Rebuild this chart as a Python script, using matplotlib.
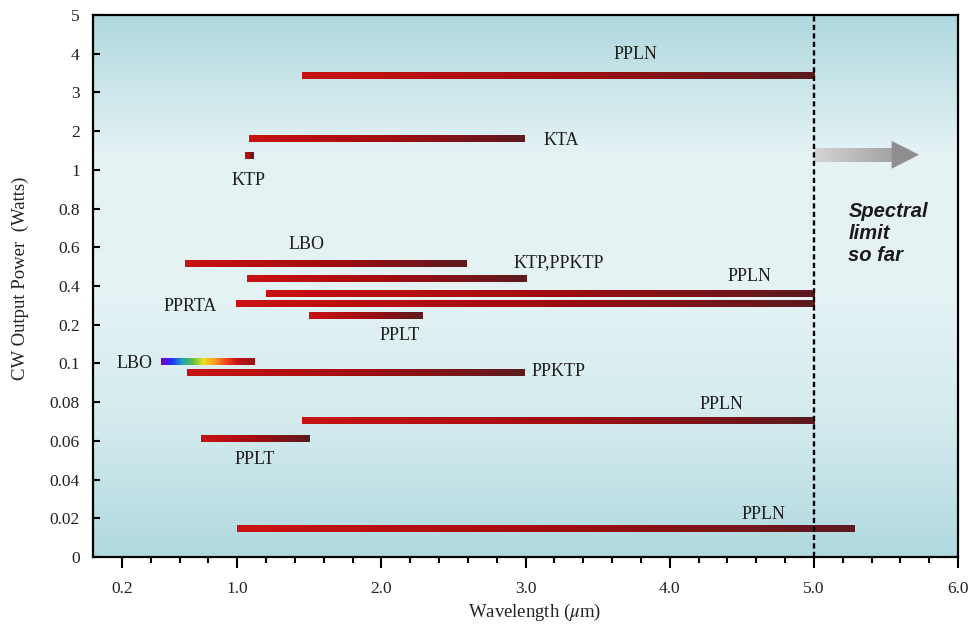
import numpy as np
import matplotlib
matplotlib.use("Agg")
import matplotlib.pyplot as plt
from matplotlib.collections import LineCollection
from matplotlib.colors import LinearSegmentedColormap
from matplotlib.patches import Polygon

plt.rcParams['font.family'] = ['Liberation Serif', 'DejaVu Serif']
plt.rcParams['mathtext.fontset'] = 'stix'

# y axis is not linear: equally spaced ticks with these values
ytick_vals = [0, 0.02, 0.04, 0.06, 0.08, 0.1, 0.2, 0.4, 0.6, 0.8, 1, 2, 3, 4, 5]
ytick_labels = ['0', '0.02', '0.04', '0.06', '0.08', '0.1', '0.2', '0.4', '0.6', '0.8',
                '1', '2', '3', '4', '5']
xtick_vals = [0.2, 1, 2, 3, 4, 5, 6]
xtick_labels = ['0.2', '1.0', '2.0', '3.0', '4.0', '5.0', '6.0']

# wavelength ranges (um) and CW power (W)
bar_x0 = [1.45, 1.08, 1.055, 0.64, 1.07, 1.20, 0.99, 1.50, 0.65, 1.45, 0.75, 1.00]
bar_x1 = [5.00, 2.99, 1.11, 2.59, 3.00, 5.00, 5.00, 2.28, 2.99, 5.00, 1.50, 5.28]
bar_p = [3.45, 1.83, 1.39, 0.52, 0.44, 0.364, 0.312, 0.25, 0.0956, 0.071, 0.0614, 0.015]

# visible LBO (rainbow part then red part)
lbo_x = [0.47, 0.99, 1.12]
lbo_p = 0.106

label_text = ['PPLN', 'KTA', 'KTP', 'LBO', 'KTP,PPKTP', 'PPLN', 'PPRTA', 'PPLT', 'LBO',
              'PPKTP', 'PPLN', 'PPLT', 'PPLN']
label_x = [3.76, 3.25, 1.08, 1.48, 3.23, 4.55, 0.675, 2.13, 0.29, 3.23, 4.36, 1.12, 4.65]
label_p = [3.97, 1.75, 0.944, 0.612, 0.52, 0.448, 0.292, 0.171, 0.101, 0.0956, 0.0786,
           0.0502, 0.0222]

limit_x = 5.0

pos = np.arange(len(ytick_vals))


def fwd(v):
    return np.interp(v, ytick_vals, pos)


def inv(p):
    return np.interp(p, pos, ytick_vals)


red_cmap = LinearSegmentedColormap.from_list('bar', ['#c81212', '#a20c10', '#5c1a1e'])
rainbow_cmap = LinearSegmentedColormap.from_list(
    'rb', ['#7a00c0', '#2030ff', '#20a0c0', '#60c040', '#e8e020', '#ffa020', '#f05020', '#d01818'])
last_cmap = LinearSegmentedColormap.from_list('lr', ['#c81414', '#9a1214'])
grey_cmap = LinearSegmentedColormap.from_list('gr', ['#d4d4d4', '#a2a2a2'])


def grad_bar(ax, x0, x1, y, cmap, lw=5.0, n=120):
    xs = np.linspace(x0, x1, n + 1)
    # each piece overlaps the next one so no seams show
    segs = [[(xs[i], y), (xs[min(i + 2, n)], y)] for i in range(n)]
    lc = LineCollection(segs, colors=cmap(np.linspace(0, 1, n)), linewidths=lw,
                        capstyle='butt', antialiaseds=False, zorder=3)
    ax.add_collection(lc)


fig = plt.figure(figsize=(9.74, 6.3), dpi=100)
ax = fig.add_axes([93 / 974, 1 - 557 / 630, 865 / 974, 542 / 630])
ax.set_yscale('function', functions=(fwd, inv))
ax.set_xlim(0, 6)
ax.set_ylim(0, 5)

# background gradient
bg = LinearSegmentedColormap.from_list('bg', ['#b0d9df', '#d4ebee', '#e6f3f5', '#e4f2f4',
                                              '#afd8de'])
grad = np.linspace(1, 0, 256).reshape(-1, 1)
ax.imshow(grad, cmap=bg, aspect='auto', extent=[0, 1, 0, 1], transform=ax.transAxes,
          zorder=0, interpolation='bicubic')

for x0, x1, p in zip(bar_x0, bar_x1, bar_p):
    grad_bar(ax, x0, x1, p, red_cmap)

grad_bar(ax, lbo_x[0], lbo_x[1], lbo_p, rainbow_cmap)
grad_bar(ax, lbo_x[1], lbo_x[2], lbo_p, last_cmap, n=20)

for t, x, p in zip(label_text, label_x, label_p):
    ax.text(x, p, t, ha='center', va='center', fontsize=13, color='#1e1e1e', zorder=4)

ax.axvline(limit_x, color='black', lw=1.7, ls=(0, (2.2, 1.4)), zorder=5)

# arrow past the limit
grad_bar(ax, 5.0, 5.56, 1.39, grey_cmap, lw=8.8, n=60)
head = Polygon([(5.54, 1.03), (5.73, 1.39), (5.54, 1.75)], closed=True,
               facecolor='#8e8e8e', edgecolor='none', zorder=3)
ax.add_patch(head)

ax.text(5.24, 0.835, 'Spectral\nlimit\nso far', ha='left', va='top', fontsize=14.5,
        family=['Liberation Sans', 'DejaVu Sans'], style='italic', weight='bold',
        color='#1a1a1a', linespacing=1.2, zorder=4)

ax.set_yticks(ytick_vals)
ax.set_yticklabels(ytick_labels)
ax.yaxis.set_minor_locator(matplotlib.ticker.NullLocator())
ax.set_xticks(xtick_vals)
ax.set_xticklabels(xtick_labels)
ax.set_xticks([x for x in np.arange(0.4, 6.0, 0.2) if abs(x - round(x)) > 0.05], minor=True)

ax.tick_params(axis='y', direction='in', length=5, width=1.5, pad=9.5, labelsize=12.5,
               colors='black', labelcolor='#222222')
ax.tick_params(axis='x', which='major', direction='out', length=8, width=1.5, pad=9,
               labelsize=12.5, labelcolor='#222222')
ax.tick_params(axis='x', which='minor', direction='out', length=4.5, width=1.5)

for s in ax.spines.values():
    s.set_linewidth(1.6)
    s.set_color('black')
    s.set_zorder(6)

fig.text(535 / 974, 1 - 612 / 630, r'Wavelength ($\mu$m)', ha='center', va='center',
         fontsize=13.5, color='#222222')
fig.text(20 / 974, 1 - 278 / 630, 'CW Output Power  (Watts)', ha='center', va='center',
         rotation=90, fontsize=13.5, color='#222222')

fig.savefig('out.png', dpi=100)
